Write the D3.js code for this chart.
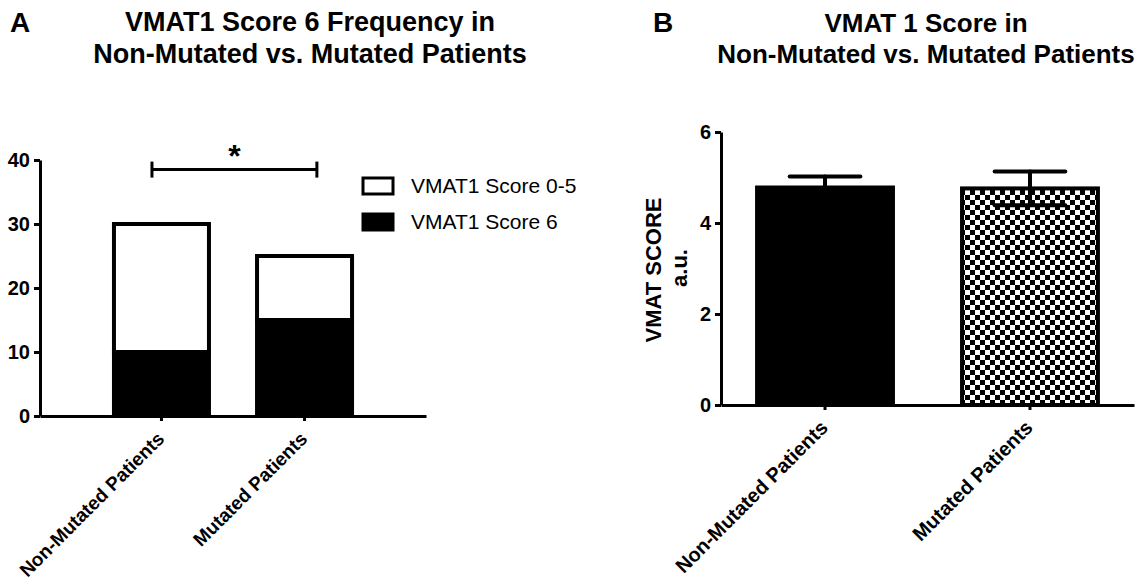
<!DOCTYPE html>
<html lang="en">
<head>
<meta charset="UTF-8">
<title>VMAT1 Score</title>
<script src="https://d3js.org/d3.v7.min.js"></script>
<style>
    body { margin: 0; background: #fff; }
    svg text { font-family: "Liberation Sans", Arial, sans-serif; fill: #000; }
</style>
</head>
<body>
<div id="chart"></div>
<script>
    // panel A: stacked counts
    const categories = ["Non-Mutated Patients", "Mutated Patients"];
    const seriesNames = ["VMAT1 Score 0-5", "VMAT1 Score 6"];
    const score6 = [10, 15];
    const score05 = [20, 10];
    const yTicksA = [0, 10, 20, 30, 40];

    // panel B: mean +/- SEM
    const meanB = [4.78, 4.76];
    const semB = [0.24, 0.37];
    const yTicksB = [0, 2, 4, 6];

    const width = 1145, height = 581;
    const svg = d3.select("#chart").append("svg")
        .attr("width", width)
        .attr("height", height);

    const defs = svg.append("defs");
    const pat = defs.append("pattern")
        .attr("id", "checker")
        .attr("patternUnits", "userSpaceOnUse")
        .attr("width", 10).attr("height", 10);
    pat.append("rect").attr("width", 10).attr("height", 10).attr("fill", "#fff");
    pat.append("rect").attr("width", 5).attr("height", 5).attr("fill", "#000");
    pat.append("rect").attr("x", 5).attr("y", 5).attr("width", 5).attr("height", 5).attr("fill", "#000");

    function styleAxis(g, fontSize) {
        g.select(".domain").attr("stroke", "#000").attr("stroke-width", 3);
        g.selectAll(".tick line").attr("stroke", "#000").attr("stroke-width", 3);
        g.selectAll(".tick text")
            .style("font-size", fontSize + "px")
            .style("font-weight", "bold");
    }

    function bottomLabels(g, fontSize) {
        g.selectAll(".tick text")
            .attr("x", 0).attr("y", 0).attr("dy", 0)
            .attr("text-anchor", "end")
            .attr("transform", "translate(4,24) rotate(-45)")
            .style("font-size", fontSize + "px")
            .style("font-weight", "bold");
    }

    function title(x, lines, y0, dy, size) {
        const t = svg.append("text")
            .attr("text-anchor", "middle")
            .style("font-size", size + "px")
            .style("font-weight", "bold");
        lines.forEach((l, i) => t.append("tspan").attr("x", x).attr("y", y0 + i * dy).text(l));
    }

    // ---------- Panel A ----------
    svg.append("text").attr("x", 10).attr("y", 32)
        .style("font-size", "28px").style("font-weight", "bold").text("A");
    title(310, ["VMAT1 Score 6 Frequency in", "Non-Mutated vs. Mutated Patients"], 31, 32, 27);

    const xA = d3.scaleBand().domain(categories).range([40, 426])
        .paddingInner(0.336).paddingOuter(0.517);
    const yA = d3.scaleLinear().domain([0, 40]).range([416, 160]);

    const gA = svg.append("g");

    const stackData = categories.map((c, i) => ({ cat: c, low: score6[i], high: score05[i] }));
    const stacked = d3.stack().keys(["low", "high"])(stackData);

    gA.selectAll(".seg")
        .data(stacked)
        .join("g")
        .attr("fill", (d, i) => i === 0 ? "#000" : "#fff")
        .selectAll("rect")
        .data(d => d)
        .join("rect")
        .attr("x", d => xA(d.data.cat))
        .attr("width", xA.bandwidth())
        .attr("y", d => yA(d[1]))
        .attr("height", d => yA(d[0]) - yA(d[1]))
        .attr("stroke", "#000")
        .attr("stroke-width", 4);

    gA.append("g")
        .attr("transform", "translate(40,0)")
        .call(d3.axisLeft(yA).tickValues(yTicksA).tickFormat(d3.format("d"))
            .tickSize(6).tickSizeOuter(0).tickPadding(4))
        .call(g => styleAxis(g, 20));

    gA.append("g")
        .attr("transform", "translate(0,416)")
        .call(d3.axisBottom(xA).tickSize(5).tickSizeOuter(0))
        .call(g => styleAxis(g, 19))
        .call(g => bottomLabels(g, 19));

    // significance bracket
    const bx0 = xA(categories[0]) + xA.bandwidth() * 0.4;
    const bx1 = xA(categories[1]) + xA.bandwidth() * 0.63;
    const by = yA(38.5);
    const br = gA.append("g").attr("stroke", "#000").attr("stroke-width", 3);
    br.append("line").attr("x1", bx0).attr("x2", bx1).attr("y1", by).attr("y2", by);
    [bx0, bx1].forEach(x => br.append("line").attr("x1", x).attr("x2", x).attr("y1", by - 8).attr("y2", by + 8));
    gA.append("text").attr("x", (bx0 + bx1) / 2).attr("y", by - 3)
        .attr("text-anchor", "middle")
        .style("font-size", "32px").style("font-weight", "bold").text("*");

    // legend
    const leg = gA.selectAll(".leg")
        .data(seriesNames)
        .join("g")
        .attr("transform", (d, i) => `translate(363,${178 + i * 36})`);
    leg.append("rect")
        .attr("width", 30).attr("height", 16)
        .attr("fill", (d, i) => i === 0 ? "#fff" : "#000")
        .attr("stroke", "#000").attr("stroke-width", 3);
    leg.append("text")
        .attr("x", 48).attr("y", 15)
        .style("font-size", "21px")
        .text(d => d);

    // ---------- Panel B ----------
    svg.append("text").attr("x", 653).attr("y", 32)
        .style("font-size", "28px").style("font-weight", "bold").text("B");
    title(926, ["VMAT 1 Score in", "Non-Mutated vs. Mutated Patients"], 32, 31, 26);

    const xB = d3.scaleBand().domain(categories).range([721, 1134])
        .paddingInner(0.337).paddingOuter(0.176);
    const yB = d3.scaleLinear().domain([0, 6]).range([405, 132]);

    const gB = svg.append("g");

    const dataB = categories.map((c, i) => ({ cat: c, mean: meanB[i], sem: semB[i] }));

    gB.selectAll(".barB")
        .data(dataB)
        .join("rect")
        .attr("x", d => xB(d.cat))
        .attr("width", xB.bandwidth())
        .attr("y", d => yB(d.mean))
        .attr("height", d => yB(0) - yB(d.mean))
        .attr("fill", (d, i) => i === 0 ? "#000" : "url(#checker)")
        .attr("stroke", "#000")
        .attr("stroke-width", 4);

    const capW = xB.bandwidth() * 0.52;
    const eb = gB.selectAll(".err")
        .data(dataB)
        .join("g")
        .attr("stroke", "#000").attr("stroke-width", 4).attr("stroke-linecap", "round");
    eb.append("line")
        .attr("x1", d => xB(d.cat) + xB.bandwidth() / 2)
        .attr("x2", d => xB(d.cat) + xB.bandwidth() / 2)
        .attr("y1", d => yB(d.mean - d.sem))
        .attr("y2", d => yB(d.mean + d.sem));
    [1, -1].forEach(s => eb.append("line")
        .attr("x1", d => xB(d.cat) + xB.bandwidth() / 2 - capW / 2)
        .attr("x2", d => xB(d.cat) + xB.bandwidth() / 2 + capW / 2)
        .attr("y1", d => yB(d.mean + s * d.sem))
        .attr("y2", d => yB(d.mean + s * d.sem)));

    gB.append("g")
        .attr("transform", "translate(721,0)")
        .call(d3.axisLeft(yB).tickValues(yTicksB).tickFormat(d3.format("d"))
            .tickSize(6).tickSizeOuter(0).tickPadding(4))
        .call(g => styleAxis(g, 20));

    gB.append("g")
        .attr("transform", "translate(0,405)")
        .call(d3.axisBottom(xB).tickSize(5).tickSizeOuter(0))
        .call(g => styleAxis(g, 20))
        .call(g => bottomLabels(g, 20));

    // y-axis title
    gB.append("text")
        .attr("transform", "translate(661,270) rotate(-90)")
        .attr("text-anchor", "middle")
        .style("font-size", "22px").style("font-weight", "bold")
        .text("VMAT SCORE");
    gB.append("text")
        .attr("transform", "translate(687,268) rotate(-90)")
        .attr("text-anchor", "middle")
        .style("font-size", "22px").style("font-weight", "bold")
        .text("a.u.");
</script>
</body>
</html>
